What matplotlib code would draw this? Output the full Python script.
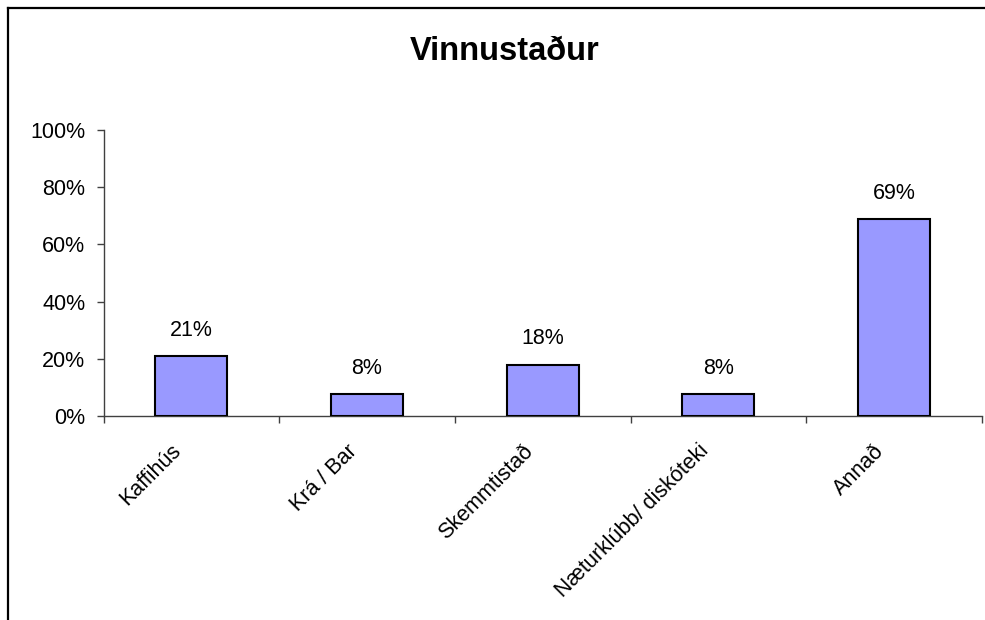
import matplotlib.pyplot as plt
from matplotlib.lines import Line2D
from matplotlib.transforms import ScaledTranslation
import numpy as np

plt.rcParams['font.family'] = ['Liberation Sans', 'DejaVu Sans']

# data
categories = ["Kaffihús", "Krá / Bar", "Skemmtistað", "Næturklúbb/ diskóteki", "Annað"]
shares = [0.21, 0.076, 0.18, 0.076, 0.69]
y_ticks = [0, 0.2, 0.4, 0.6, 0.8, 1.0]
y_tick_labels = ["0%", "20%", "40%", "60%", "80%", "100%"]
title = "Vinnustaður"

W, H = 985, 620
fig = plt.figure(figsize=(W / 100, H / 100), dpi=100)
ax = fig.add_axes([103.5 / W, 1 - 416 / H, (982 - 103.5) / W, (416 - 130) / H])

x = np.arange(len(categories))
bars = ax.bar(x, shares, width=0.41, color='#9999FF', edgecolor='black', linewidth=1.5, zorder=3)

# value labels above bars
for xi, v in zip(x, shares):
    ax.annotate(f"{v:.0%}", (xi, v), xytext=(0, 14.5), textcoords='offset points',
                ha='center', va='baseline', fontsize=15.5)

ax.set_xlim(-0.5, len(categories) - 0.5)
ax.set_ylim(0, 1.0)
ax.set_yticks(y_ticks)
ax.set_yticklabels(y_tick_labels, fontsize=15.5)

# ticks between categories, labels at category centers
ax.set_xticks(np.arange(len(categories) + 1) - 0.5)
ax.set_xticklabels([])
ax.set_xticks(x, minor=True)
ax.set_xticklabels(categories, minor=True, fontsize=15.5, rotation=45,
                   ha='right', va='center', rotation_mode='anchor')
ax.tick_params(axis='x', which='minor', length=0, pad=0)
ax.tick_params(axis='x', which='major', direction='out', length=5, width=1, color='#404040')
ax.tick_params(axis='y', direction='out', length=5, width=1, color='#404040', pad=8)

offset = ScaledTranslation(-13 / 100, -32 / 100, fig.dpi_scale_trans)
for lbl in ax.get_xticklabels(minor=True):
    lbl.set_transform(lbl.get_transform() + offset)

for side in ['top', 'right']:
    ax.spines[side].set_visible(False)
for side in ['left', 'bottom']:
    ax.spines[side].set_color('#404040')
    ax.spines[side].set_linewidth(1)

fig.text(505 / W, 1 - 52 / H, title, ha='center', va='center', fontsize=23.5, fontweight='bold')

# chart frame, cut off at right and bottom like the reference
fig.add_artist(Line2D([8 / W, 1], [1 - 8 / H, 1 - 8 / H], color='black', linewidth=1.6,
                      transform=fig.transFigure))
fig.add_artist(Line2D([8 / W, 8 / W], [1 - 8 / H, 0], color='black', linewidth=1.6,
                      transform=fig.transFigure))

fig.savefig('out.png', dpi=100)
